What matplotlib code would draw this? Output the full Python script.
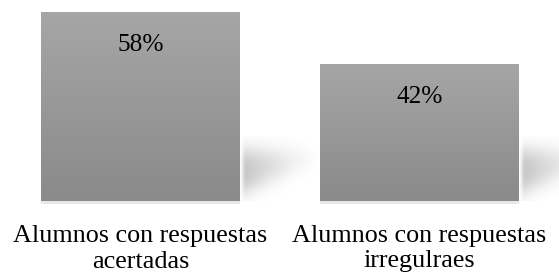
import numpy as np
import matplotlib
matplotlib.use('Agg')
import matplotlib.pyplot as plt
from matplotlib.colors import LinearSegmentedColormap

categories = ["Alumnos con respuestas\nacertadas", "Alumnos con respuestas\nirregulraes"]
values = [58, 42]
value_labels = ["58%", "42%"]

W, H, DPI = 559, 276, 100
fig = plt.figure(figsize=(W / DPI, H / DPI), dpi=DPI)
ax = fig.add_axes([0, 0, 1, 1])
ppx = 279.0                 # pixels per x unit
ppu = 189.0 / 58.0          # pixels per y unit
base_px = 201.0             # baseline pixel from top
ax.set_xlim(-140.5 / ppx, (W - 140.5) / ppx)
ax.set_ylim(-(H - base_px) / ppu, base_px / ppu)
ax.axis('off')

x = np.arange(len(values))
width = 199.0 / ppx
bars = ax.bar(x, values, width=width, color='none', edgecolor='none', zorder=3)

grad_cmap = LinearSegmentedColormap.from_list('g', ['#8a8a8a', '#a6a6a6'])
grad = np.linspace(0, 1, 256).reshape(-1, 1)

# shadow field (pixel space)
U, V = np.meshgrid(np.arange(0, 95, 0.5), np.arange(0, 65, 0.5))
lower = 8 + 0.42 * U
upper = 50 - 0.03 * U
def sig(z):
    return 1 / (1 + np.exp(-z))
band = sig((V - lower) / 6.0) * sig((upper - V) / 6.0)
fade = np.clip(1 - (U - 8) / 78, 0, 1) ** 1.1 * np.clip(U / 5, 0, 1)
alpha = 0.23 * band * fade
shadow = np.zeros(U.shape + (4,))
shadow[..., 3] = alpha

fs = 18.8
for b, lab, cat in zip(bars, value_labels, categories):
    x0, x1 = b.get_x(), b.get_x() + b.get_width()
    h = b.get_height()
    xc = x0 + b.get_width() / 2
    ax.imshow(grad, extent=[x0, x1, 0, h], origin='lower', cmap=grad_cmap,
              aspect='auto', zorder=3, interpolation='bilinear')
    # shadow to the right of the bar
    ax.imshow(shadow, extent=[x1, x1 + 95 / ppx, 0, 65 / ppu], origin='lower',
              aspect='auto', zorder=2, interpolation='bilinear')
    # thin light reflection below bar
    ax.add_patch(plt.Rectangle((x0, -2.5 / ppu), x1 - x0, 2.5 / ppu,
                               color='#e8e8e8', lw=0, zorder=2))
    ax.text(xc, h - 39 / ppu, lab, ha='center', va='baseline',
            fontsize=18.3, family='Liberation Serif', color='black', zorder=4)
    for i, line in enumerate(cat.split('\n')):
        ax.text(xc, -(41 + 25.5 * i) / ppu, line, ha='center', va='baseline',
                fontsize=fs, family='Liberation Serif', color='black')

fig.savefig('out.png', dpi=DPI)
